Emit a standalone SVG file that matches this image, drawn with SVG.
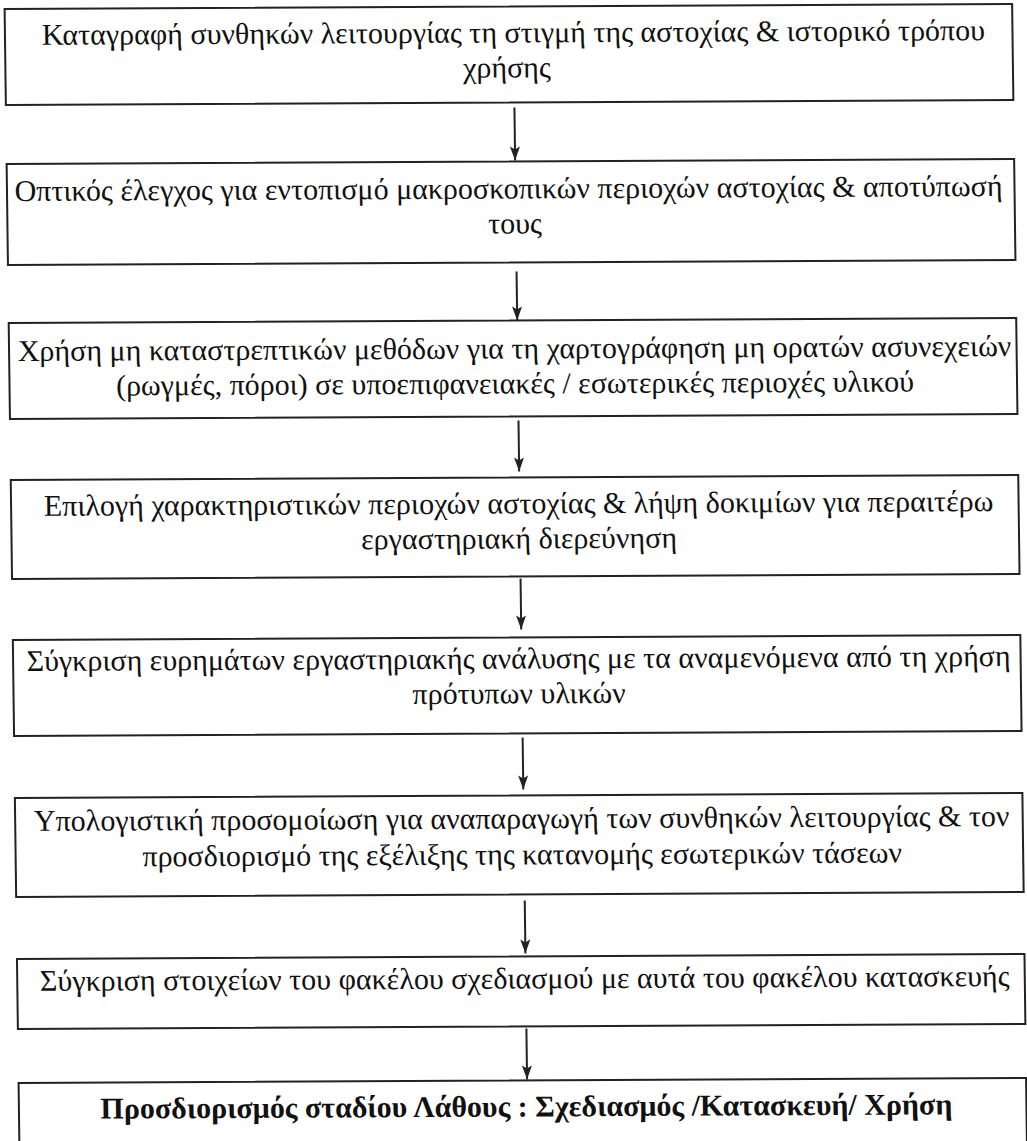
<svg xmlns="http://www.w3.org/2000/svg" width="1027" height="1141" viewBox="0 0 1027 1141">
<defs>
<style>
.box{fill:none;stroke:#222;stroke-width:2}
.t{font-family:"Liberation Serif","Times New Roman",serif;font-size:30px;fill:#111;text-anchor:middle}
.b{font-weight:bold}
.c{stroke:#222;stroke-width:2;fill:none}
</style>
<marker id="ah" viewBox="0 0 14 10" refX="14" refY="5" markerWidth="14" markerHeight="10" orient="auto" markerUnits="userSpaceOnUse">
<path d="M0,0 L14,5 L0,10 L3,5 z" fill="#222"/>
</marker>
</defs>
<rect width="1027" height="1141" fill="#fff"/>
<g transform="matrix(1 -0.005 0.013 1 0 0)">
<g id="connectors">
<line class="c" x1="513" y1="110" x2="513" y2="163" marker-end="url(#ah)"/>
<line class="c" x1="513" y1="274" x2="513" y2="323" marker-end="url(#ah)"/>
<line class="c" x1="513" y1="423" x2="513" y2="474" marker-end="url(#ah)"/>
<line class="c" x1="513" y1="581" x2="513" y2="632" marker-end="url(#ah)"/>
<line class="c" x1="513" y1="740" x2="513" y2="792" marker-end="url(#ah)"/>
<line class="c" x1="513" y1="903" x2="513" y2="956" marker-end="url(#ah)"/>
<line class="c" x1="513" y1="1031" x2="513" y2="1082" marker-end="url(#ah)"/>
</g>
<g id="n1"><rect class="box" x="4.5" y="9" width="1007.5" height="96"/>
<text class="t" x="513" y="45">Καταγραφή συνθηκών λειτουργίας τη στιγμή της αστοχίας &amp; ιστορικό τρόπου</text>
<text class="t" x="506" y="80">χρήσης</text></g>
<g id="n2"><rect class="box" x="4.5" y="164" width="1007.5" height="101"/>
<text class="t" x="506" y="201">Οπτικός έλεγχος για εντοπισμό μακροσκοπικών περιοχών αστοχίας &amp; αποτύπωσή</text>
<text class="t" x="512" y="236">τους</text></g>
<g id="n3"><rect class="box" x="4.5" y="323" width="1007.5" height="96"/>
<text class="t" x="510" y="361">Χρήση μη καταστρεπτικών μεθόδων για τη χαρτογράφηση μη ορατών ασυνεχειών</text>
<text class="t" x="510" y="396">(ρωγμές, πόροι) σε υποεπιφανειακές / εσωτερικές περιοχές υλικού</text></g>
<g id="n4"><rect class="box" x="4.5" y="480" width="1007.5" height="99"/>
<text class="t" x="512" y="516">Επιλογή χαρακτηριστικών περιοχών αστοχίας &amp; λήψη δοκιμίων για περαιτέρω</text>
<text class="t" x="512" y="551">εργαστηριακή διερεύνηση</text></g>
<g id="n5"><rect class="box" x="4.5" y="640" width="1007.5" height="96"/>
<text class="t" x="510" y="671">Σύγκριση ευρημάτων εργαστηριακής ανάλυσης με τα αναμενόμενα από τη χρήση</text>
<text class="t" x="510" y="706">πρότυπων υλικών</text></g>
<g id="n6"><rect class="box" x="4.5" y="798" width="1007.5" height="99"/>
<text class="t" x="511" y="831">Υπολογιστική προσομοίωση για αναπαραγωγή των συνθηκών λειτουργίας &amp; τον</text>
<text class="t" x="511" y="867">προσδιορισμό της εξέλιξης της κατανομής εσωτερικών τάσεων</text></g>
<g id="n7"><rect class="box" x="4.5" y="959" width="1007.5" height="70"/>
<text class="t" x="512" y="991">Σύγκριση στοιχείων του φακέλου σχεδιασμού με αυτά του φακέλου κατασκευής</text></g>
<g id="n8"><rect class="box" x="4.5" y="1083" width="1007.5" height="80"/>
<text class="t b" x="512" y="1119">Προσδιορισμός σταδίου Λάθους : Σχεδιασμός /Κατασκευή/ Χρήση</text></g>
</g>
</svg>
